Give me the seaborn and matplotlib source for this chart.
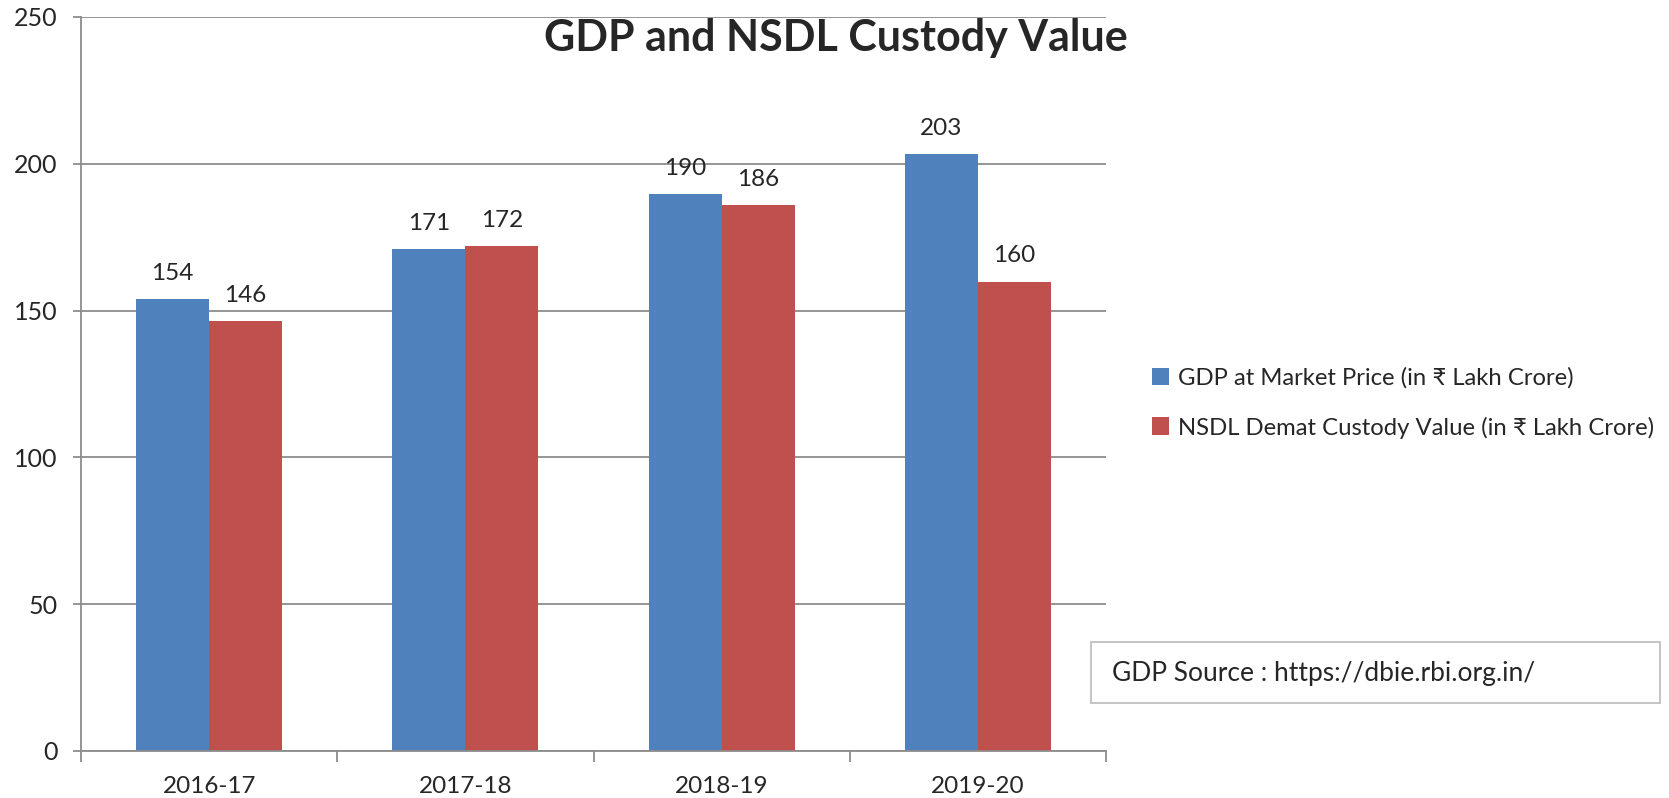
import matplotlib
matplotlib.use("Agg")
import matplotlib.pyplot as plt
import seaborn as sns
import pandas as pd
from matplotlib.patches import Rectangle

years = ["2016-17", "2017-18", "2018-19", "2019-20"]
gdp = [153.9, 170.9, 189.7, 203.4]
nsdl = [146.4, 172.0, 186.0, 159.9]
series_names = ["GDP at Market Price (in \u20b9 Lakh Crore)",
                "NSDL Demat Custody Value (in \u20b9 Lakh Crore)"]
colors = ["#4F81BD", "#C0504D"]
yticks = [0, 50, 100, 150, 200, 250]

df = pd.DataFrame({
    "year": years * 2,
    "value": gdp + nsdl,
    "series": [series_names[0]] * len(years) + [series_names[1]] * len(years),
})

sns.set_style("white")
plt.rcParams["font.family"] = ["Lato", "DejaVu Sans"]

fig = plt.figure(figsize=(16.69, 7.98), dpi=100)
ax = fig.add_axes([81 / 1669, 1 - 751 / 798, (1106 - 81) / 1669, (751 - 17) / 798])

sns.barplot(data=df, x="year", y="value", hue="series", palette=colors,
            width=0.57, saturation=1, ax=ax, edgecolor="none", linewidth=0)

grid_c = "#8C8C8C"
ax.set_ylim(0, 250)
ax.set_yticks(yticks)
ax.set_xlim(-0.5, len(years) - 0.5)
ax.yaxis.grid(True, color=grid_c, linewidth=1.3)
ax.set_axisbelow(True)
for s in ["top", "right"]:
    ax.spines[s].set_visible(False)
for s in ["left", "bottom"]:
    ax.spines[s].set_color(grid_c)
    ax.spines[s].set_linewidth(1.3)
ax.set_xlabel("")
ax.set_ylabel("")
ax.tick_params(axis="y", length=6, width=1.3, color=grid_c, pad=11, labelsize=18, left=True)
ax.tick_params(axis="x", length=0, pad=18, labelsize=17.5)
ax.set_xticks([i - 0.5 for i in range(len(years) + 1)], minor=True)
ax.tick_params(axis="x", which="minor", length=8, width=1.3, color=grid_c, bottom=True)

for cont in ax.containers:
    ax.bar_label(cont, fmt="%.0f", padding=11, fontsize=17.5)

leg = ax.legend(loc="center left", bbox_to_anchor=(1130 / 1669, 1 - 403 / 798),
                bbox_transform=fig.transFigure, frameon=False, fontsize=17.2,
                handlelength=0.75, handleheight=0.75, handletextpad=0.35, labelspacing=1.15)

fig.text(836 / 1669, 1 - 38 / 798, "GDP and NSDL Custody Value", ha="center", va="center",
         fontsize=31, fontweight="bold")

fig.patches.append(Rectangle((1091 / 1669, 1 - 703 / 798), (1660 - 1091) / 1669, 61 / 798,
                             transform=fig.transFigure, facecolor="white",
                             edgecolor="#BFBFBF", linewidth=1.3))
fig.text(1112 / 1669, 1 - 673 / 798, "GDP Source : https://dbie.rbi.org.in/",
         ha="left", va="center", fontsize=19)

fig.savefig("out.png", dpi=100)
